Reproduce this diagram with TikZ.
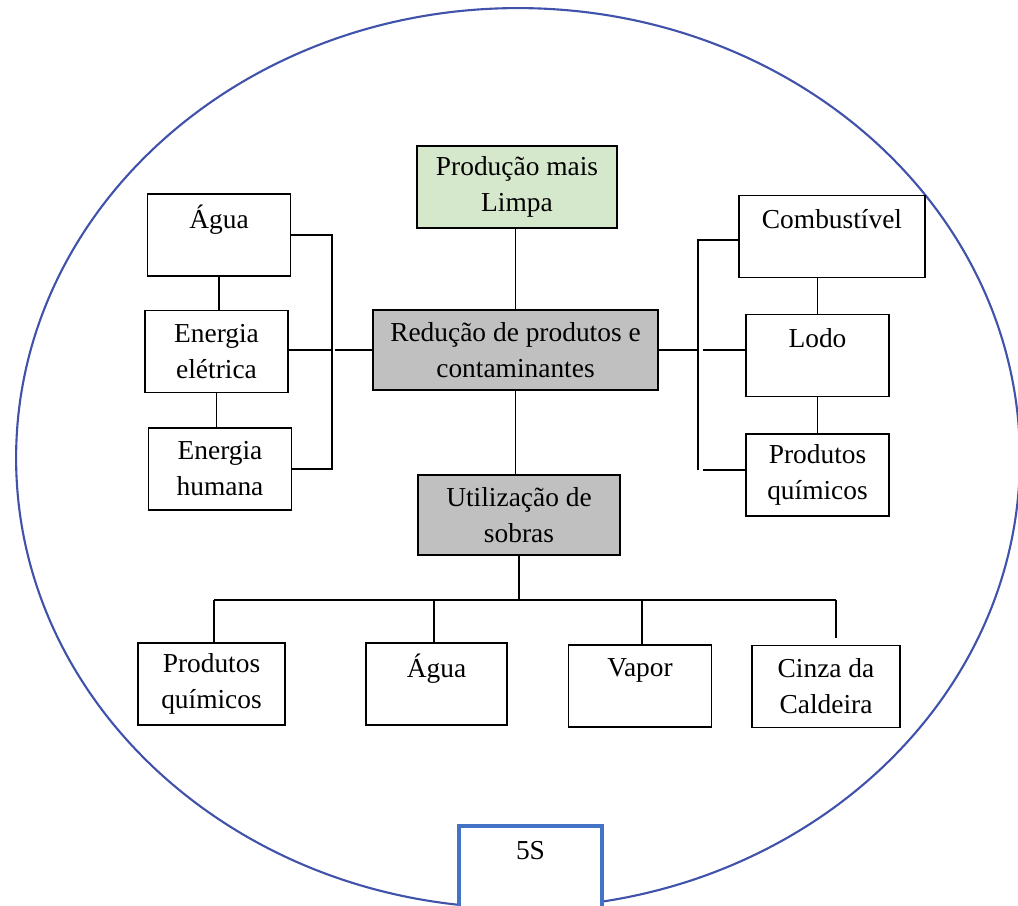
\documentclass[tikz,border=0pt]{standalone}
\usepackage{fontspec}
\setmainfont{Liberation Serif}
\usepackage{tikz}
\usetikzlibrary{positioning,calc}
\definecolor{ringblue}{RGB}{64,82,170}
\definecolor{fiveblue}{RGB}{68,114,196}
\definecolor{plgreen}{RGB}{214,232,204}
\definecolor{boxgray}{RGB}{192,192,192}

\begin{document}
\begin{tikzpicture}[
  x=0.02cm, y=-0.02cm,
  font=\fontsize{15.6}{20.5}\selectfont,
  b/.style={draw, line width=1.1pt, align=center, minimum width=2.86cm,
    minimum height=1.64cm, inner sep=2pt, fill=white},
  g/.style={b, fill=plgreen},
  h/.style={b, fill=boxgray},
  l/.style={line width=1pt},
  ring/.style={draw=ringblue, line width=1.2pt}
]
\useasboundingbox (0,0) rectangle (1018,906);
\draw[ring] (518,458) ellipse [x radius=10.04cm, y radius=9cm];

\node[g, minimum width=4cm] (prod) at (517,187) {Produção mais\\Limpa};
\node[h, minimum width=5.7cm, minimum height=1.6cm] (red) at (515.5,350) {Redução de produtos e\\contaminantes};
\node[h, minimum width=4.04cm, minimum height=1.6cm] (util) at (519,515) {Utilização de\\sobras};

\node[b] (aguaL) at (219,235) {Água\\~};
\node[b] (eletr) at (216.5,351.5) {Energia\\elétrica};
\node[b] (human) at (220,469) {Energia\\humana};

\node[b, minimum width=3.72cm] (comb) at (832,236.5) {Combustível\\~};
\node[b] (lodo) at (817.5,355.5) {Lodo\\~};
\node[b] (prodR) at (817.5,475) {Produtos\\químicos};

\node[b, minimum width=2.94cm] (prodB) at (211.5,684) {Produtos\\químicos};
\node[b, minimum width=2.82cm] (aguaB) at (436.5,684) {Água\\~};
\node[b] (vapor) at (640,686) {Vapor\\~};
\node[b, minimum width=2.96cm] (cinza) at (826,686.5) {Cinza da\\Caldeira};

\node[b, draw=fiveblue, line width=2.8pt, minimum height=1.68cm] (fiveS) at (530.5,868) {5S\\~};

% centro
\draw[l] (red.north) -- (red.north |- prod.south);
\draw[l] (red.south) -- (red.south |- util.north);

% lado esquerdo
\coordinate (lbus) at (332,350);
\coordinate (lgap) at (335,350);
\draw[l] (aguaL.east) -| (lbus) |- (human.east);
\draw[l] (eletr.east |- lbus) -- (lbus);
\draw[l] (red.west) -- (lgap);
\draw[l] (aguaL.south) -- (aguaL.south |- eletr.north);
\draw[l] (eletr.south) -- (eletr.south |- human.north);

% lado direito
\coordinate (rtop) at (698,240);
\coordinate (rmid) at (698,350);
\coordinate (rbot) at (698,470);
\draw[l] (comb.west |- rtop) -- (rtop) -- (rbot);
\draw[l] (red.east) -- (rmid);
\draw[l] (703,350) -- (lodo.west |- rmid);
\draw[l] (703,470) -- (prodR.west |- rbot);
\draw[l] (lodo.north) -- (lodo.north |- comb.south);
\draw[l] (lodo.south) -- (lodo.south |- prodR.north);

% sobras
\coordinate (s0) at (519,600);
\coordinate (s1) at (214,600);
\coordinate (s2) at (434,600);
\coordinate (s3) at (642,600);
\coordinate (s4) at (836,600);
\draw[l] (util.south) -- (s0);
\draw[l] (s1) -- (s4);
\draw[l] (s1) -- (s1 |- prodB.north);
\draw[l] (s2) -- (s2 |- aguaB.north);
\draw[l] (s3) -- (s3 |- vapor.north);
\draw[l] (s4) -- (836,638);
\end{tikzpicture}
\end{document}
